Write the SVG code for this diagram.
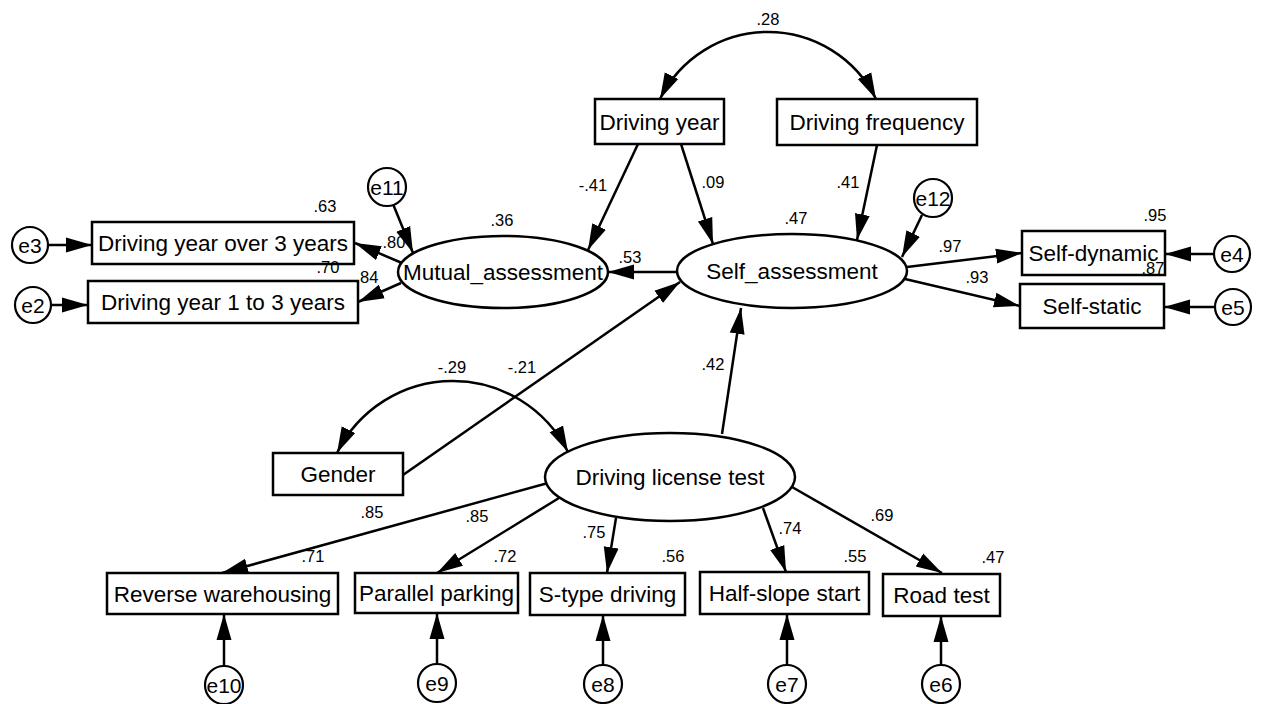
<svg xmlns="http://www.w3.org/2000/svg" width="1262" height="704" viewBox="0 0 1262 704">
<defs>
<marker id="ah" markerUnits="userSpaceOnUse" markerWidth="28" markerHeight="18" refX="26" refY="8" orient="auto-start-reverse" viewBox="0 0 28 18">
<path d="M0,0.5 L26,8 L0,15.5 z" fill="#000"/>
</marker>
<style>
.box{fill:#fff;stroke:#000;stroke-width:2.5}
.ell{fill:#fff;stroke:#000;stroke-width:2.5}
.err{fill:#fff;stroke:#000;stroke-width:2.2}
.lab{font-family:"Liberation Sans",Arial,sans-serif;font-size:22.5px;text-anchor:middle;fill:#000}
.elab{font-family:"Liberation Sans",Arial,sans-serif;font-size:21px;text-anchor:middle;fill:#000}
.num{font-family:"Liberation Sans",Arial,sans-serif;font-size:16.5px;text-anchor:middle;fill:#000}
.arr{fill:none;stroke:#000;stroke-width:2.5;marker-end:url(#ah)}
.cov{fill:none;stroke:#000;stroke-width:2.5;marker-start:url(#ah);marker-end:url(#ah)}
</style>
</defs>
<rect width="1262" height="704" fill="#fff"/>

<g id="connectors">
<path class="cov" d="M660,99 A120.5,120.5 0 0 1 876,99"/>
<path class="cov" d="M337,453 A129,129 0 0 1 568,452"/>
<line class="arr" x1="638" y1="144" x2="588" y2="250"/>
<line class="arr" x1="681" y1="144" x2="713" y2="244"/>
<line class="arr" x1="877" y1="145" x2="857" y2="240"/>
<line class="arr" x1="922" y1="215" x2="902" y2="257"/>
<line class="arr" x1="907" y1="267" x2="1022" y2="253"/>
<line class="arr" x1="905" y1="279" x2="1020" y2="306"/>
<line class="arr" x1="1213" y1="254" x2="1165" y2="254"/>
<line class="arr" x1="1214" y1="307" x2="1164" y2="307"/>
<line class="arr" x1="677" y1="272" x2="608" y2="272"/>
<line class="arr" x1="403" y1="475" x2="680" y2="282"/>
<line class="arr" x1="722" y1="434" x2="741" y2="308"/>
<line class="arr" x1="393" y1="204" x2="413" y2="253"/>
<line class="arr" x1="402" y1="263" x2="355" y2="243"/>
<line class="arr" x1="401" y1="283" x2="358" y2="302"/>
<line class="arr" x1="49" y1="245" x2="92" y2="245"/>
<line class="arr" x1="52" y1="305" x2="88" y2="305"/>
<line class="arr" x1="548" y1="483" x2="222" y2="573"/>
<line class="arr" x1="559" y1="498" x2="437" y2="573"/>
<line class="arr" x1="616" y1="518" x2="607" y2="573"/>
<line class="arr" x1="763" y1="508" x2="786" y2="572"/>
<line class="arr" x1="792" y1="487" x2="942" y2="573"/>
<line class="arr" x1="224" y1="666" x2="224" y2="614"/>
<line class="arr" x1="437" y1="664" x2="437" y2="613"/>
<line class="arr" x1="603" y1="665" x2="603" y2="615"/>
<line class="arr" x1="787" y1="665" x2="787" y2="614"/>
<line class="arr" x1="941" y1="665" x2="941" y2="616"/>
</g>

<g id="driving_year"><rect class="box" x="595" y="99" width="129" height="45"/><text class="lab" x="659.5" y="129.5">Driving year</text></g>
<g id="driving_frequency"><rect class="box" x="777" y="99" width="200" height="46"/><text class="lab" x="877" y="130">Driving frequency</text></g>
<g id="mutual_assessment"><ellipse class="ell" cx="503" cy="272" rx="105" ry="36"/><text class="lab" x="503" y="280">Mutual_assessment</text></g>
<g id="self_assessment"><ellipse class="ell" cx="792" cy="271" rx="115" ry="37"/><text class="lab" x="792" y="279">Self_assessment</text></g>
<g id="driving_license_test"><ellipse class="ell" cx="670" cy="477" rx="125" ry="44"/><text class="lab" x="670" y="485">Driving license test</text></g>
<g id="gender"><rect class="box" x="273" y="453" width="130" height="42"/><text class="lab" x="338" y="482">Gender</text></g>
<g id="dy_over3"><rect class="box" x="92" y="222" width="262" height="42"/><text class="lab" x="223" y="251">Driving year over 3 years</text></g>
<g id="dy_1to3"><rect class="box" x="88" y="281" width="270" height="42"/><text class="lab" x="223" y="310">Driving year 1 to 3 years</text></g>
<g id="self_dynamic"><rect class="box" x="1022" y="231" width="143" height="44"/><text class="lab" x="1093.5" y="261">Self-dynamic</text></g>
<g id="self_static"><rect class="box" x="1020" y="284" width="144" height="44"/><text class="lab" x="1092" y="314">Self-static</text></g>
<g id="reverse_warehousing"><rect class="box" x="107" y="573" width="231" height="41"/><text class="lab" x="222.5" y="601.5">Reverse warehousing</text></g>
<g id="parallel_parking"><rect class="box" x="355" y="573" width="163" height="40"/><text class="lab" x="436.5" y="601">Parallel parking</text></g>
<g id="s_type_driving"><rect class="box" x="530" y="573" width="155" height="42"/><text class="lab" x="607.5" y="602">S-type driving</text></g>
<g id="half_slope_start"><rect class="box" x="700" y="572" width="169" height="42"/><text class="lab" x="784.5" y="601">Half-slope start</text></g>
<g id="road_test"><rect class="box" x="883" y="574" width="117" height="42"/><text class="lab" x="941.5" y="603">Road test</text></g>

<g id="e3"><circle class="err" cx="30" cy="245" r="18"/><text class="elab" x="30" y="252.5">e3</text></g>
<g id="e2"><circle class="err" cx="33" cy="305" r="18"/><text class="elab" x="33" y="312.5">e2</text></g>
<g id="e11"><circle class="err" cx="387" cy="187" r="19"/><text class="elab" x="387" y="194.5">e11</text></g>
<g id="e12"><circle class="err" cx="933" cy="198" r="19"/><text class="elab" x="933" y="205.5">e12</text></g>
<g id="e4"><circle class="err" cx="1232" cy="254" r="18"/><text class="elab" x="1232" y="261.5">e4</text></g>
<g id="e5"><circle class="err" cx="1233" cy="307" r="18"/><text class="elab" x="1233" y="314.5">e5</text></g>
<g id="e10"><circle class="err" cx="224" cy="685" r="19"/><text class="elab" x="224" y="692.5">e10</text></g>
<g id="e9"><circle class="err" cx="437" cy="683" r="19"/><text class="elab" x="437" y="690.5">e9</text></g>
<g id="e8"><circle class="err" cx="603" cy="684" r="19"/><text class="elab" x="603" y="691.5">e8</text></g>
<g id="e7"><circle class="err" cx="787" cy="684" r="19"/><text class="elab" x="787" y="691.5">e7</text></g>
<g id="e6"><circle class="err" cx="941" cy="684" r="19"/><text class="elab" x="941" y="691.5">e6</text></g>

<g id="labels">
<text class="num" x="768" y="25">.28</text>
<text class="num" x="325" y="212">.63</text>
<text class="num" x="394" y="248">.80</text>
<text class="num" x="328" y="273">.70</text>
<text class="num" x="367" y="283">.84</text>
<text class="num" x="502" y="226">.36</text>
<text class="num" x="593" y="191">-.41</text>
<text class="num" x="713" y="188">.09</text>
<text class="num" x="630" y="263">.53</text>
<text class="num" x="848" y="188">.41</text>
<text class="num" x="796" y="224">.47</text>
<text class="num" x="1155" y="221">.95</text>
<text class="num" x="950" y="252">.97</text>
<text class="num" x="977" y="283">.93</text>
<text class="num" x="1153" y="274">.87</text>
<text class="num" x="452" y="373">-.29</text>
<text class="num" x="522" y="373">-.21</text>
<text class="num" x="713" y="370">.42</text>
<text class="num" x="372" y="518">.85</text>
<text class="num" x="477" y="522">.85</text>
<text class="num" x="594" y="538">.75</text>
<text class="num" x="313" y="562">.71</text>
<text class="num" x="505" y="562">.72</text>
<text class="num" x="673" y="562">.56</text>
<text class="num" x="790" y="534">.74</text>
<text class="num" x="855" y="562">.55</text>
<text class="num" x="882" y="521">.69</text>
<text class="num" x="993" y="563">.47</text>
</g>
</svg>
